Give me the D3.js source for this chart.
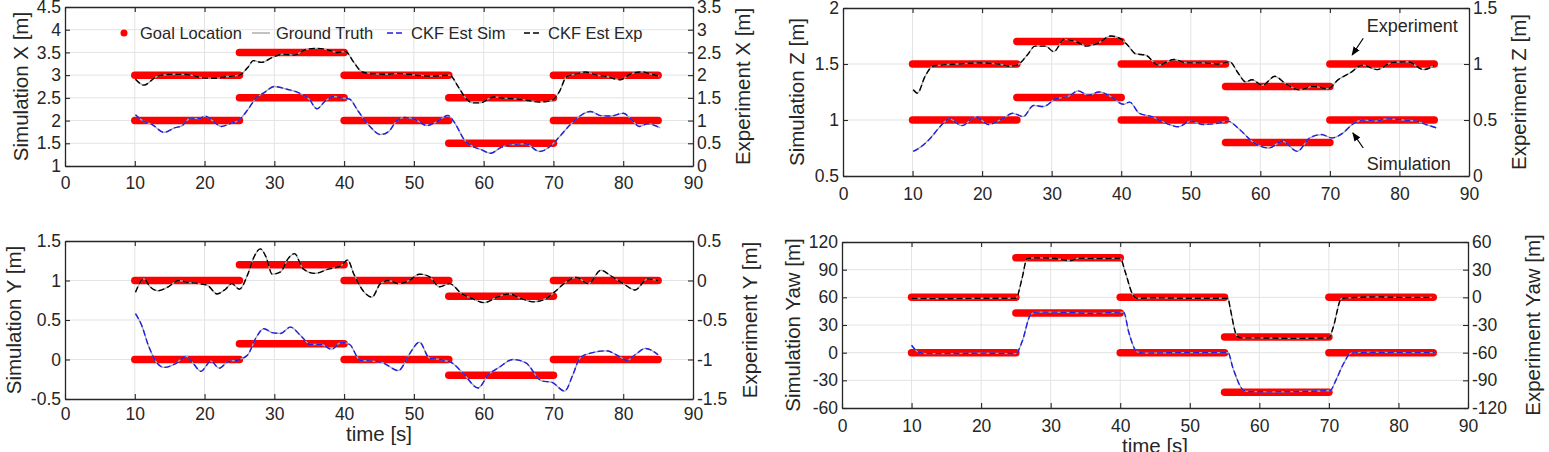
<!DOCTYPE html>
<html>
<head>
<meta charset="utf-8">
<script src="https://cdn.jsdelivr.net/npm/d3@7"></script>
<style>
  body { margin: 0; background: #fff; }
</style>
</head>
<body>
<svg id="chart" width="1549" height="452"></svg>
<script>
const d3 = window.d3

const timeTicks = [0, 10, 20, 30, 40, 50, 60, 70, 80, 90]
const goalTimes = [10, 25, 40, 55, 70, 85]

// set-points per segment (sim on left axis, exp on right axis)
const goalX = [2, 2.5, 2, 1.5, 2]
const goalY = [0, 0.2, 0, -0.2, 0]
const goalZ = [1, 1.2, 1, 0.8, 1]
const goalYaw = [0, 43, 0, -43, 0]

const xSimTicks = [1, 1.5, 2, 2.5, 3, 3.5, 4, 4.5]
const xExpTicks = [0, 0.5, 1, 1.5, 2, 2.5, 3, 3.5]
const ySimTicks = [-0.5, 0, 0.5, 1, 1.5]
const yExpTicks = [-1.5, -1, -0.5, 0, 0.5]
const zSimTicks = [0.5, 1, 1.5, 2]
const zExpTicks = [0, 0.5, 1, 1.5]
const yawSimTicks = [-60, -30, 0, 30, 60, 90, 120]
const yawExpTicks = [-120, -90, -60, -30, 0, 30, 60]

// CKF estimates, [time, value]
const simX = [[10.1, 2.13], [11, 2.01], [12.5, 1.91], [14.2, 1.74], [15.7, 1.84], [16.8, 1.89], [18, 2.06], [19.2, 2.04], [20.1, 2.1], [21.2, 1.99], [22.4, 1.87], [23.6, 1.93], [25, 2.02], [26.2, 2.24], [27.4, 2.5], [28.5, 2.61], [30, 2.75], [31.8, 2.69], [33.5, 2.61], [35, 2.47], [36.1, 2.26], [37.3, 2.43], [38.5, 2.53], [39.6, 2.5], [40.8, 2.47], [42, 2.21], [43.7, 1.87], [45.2, 1.69], [46.4, 1.76], [47.5, 1.99], [48.7, 2.07], [50.2, 2.02], [51.9, 1.89], [53.1, 1.96], [54.9, 2.11], [56, 1.91], [57.2, 1.58], [58.4, 1.43], [59.5, 1.37], [61, 1.28], [62.5, 1.41], [64.2, 1.47], [66, 1.49], [68, 1.32], [69.5, 1.43], [70.9, 1.65], [72.4, 1.91], [73.8, 2.1], [75.3, 2.2], [76.8, 2.11], [78.2, 2.1], [80, 2.16], [81.2, 2.02], [82.3, 1.87], [83.5, 1.93], [85.3, 1.84]]
const expX = [[10.1, 1.91], [11.3, 1.78], [13.3, 1.98], [15.7, 2.02], [18, 2.0], [19.8, 1.94], [21.5, 1.93], [23.3, 1.97], [25, 2.0], [26.2, 2.17], [27, 2.32], [28.2, 2.28], [29.7, 2.39], [31.2, 2.46], [32.9, 2.44], [34.4, 2.56], [35.8, 2.59], [37.6, 2.56], [39, 2.5], [40.2, 2.52], [41.4, 2.28], [42.6, 2.07], [44.3, 2.03], [46.1, 2.02], [47.8, 2.04], [50.2, 2.0], [52.5, 1.98], [55.1, 2.0], [56.3, 1.76], [57.2, 1.54], [58.4, 1.39], [59.5, 1.39], [61.4, 1.52], [63.2, 1.49], [65.2, 1.47], [68, 1.41], [69.5, 1.43], [70.9, 1.65], [71.8, 1.95], [73.6, 2.04], [74.6, 2.07], [76.2, 2.0], [77.6, 1.97], [79.5, 1.9], [81.3, 2.04], [82.8, 2.07], [84, 2.02], [85.2, 1.98]]
const simY = [[10.1, 0.58], [11, 0.43], [11.9, 0.19], [13, -0.02], [14.2, -0.1], [15.7, -0.06], [17.4, 0.04], [18.3, -0.04], [19.5, -0.15], [20.9, -0.02], [22.1, -0.11], [23.3, -0.03], [25, 0.0], [26.2, 0.06], [27.4, 0.28], [28.5, 0.39], [29.7, 0.34], [30.9, 0.33], [32.3, 0.41], [33.8, 0.3], [35.2, 0.19], [36.7, 0.19], [38.2, 0.13], [39.6, 0.22], [40.8, 0.19], [42.3, -0.01], [44, -0.02], [45.5, -0.04], [47.8, -0.14], [49.3, 0.06], [50.8, 0.22], [52.2, 0.02], [53.7, 0.0], [55.4, -0.04], [57.2, -0.19], [59.2, -0.36], [60.7, -0.19], [62.2, -0.1], [64.2, 0.0], [66, -0.04], [68.3, -0.27], [69.8, -0.29], [71.6, -0.4], [72.8, -0.19], [73.8, 0.02], [75.3, 0.08], [77.6, 0.11], [79.4, 0.04], [80.6, -0.01], [81.7, 0.06], [83.2, 0.14], [85, 0.06]]
const expY = [[10.1, -0.15], [11.3, 0.02], [12.2, -0.08], [13.3, -0.13], [14.8, -0.08], [16.3, 0.0], [17.4, -0.02], [19.2, -0.04], [20.4, -0.06], [21.8, -0.17], [23, -0.11], [23.9, -0.04], [25, -0.11], [26.2, 0.08], [27.1, 0.3], [28, 0.4], [28.8, 0.3], [29.7, 0.08], [30.9, 0.11], [32, 0.28], [32.9, 0.34], [34.1, 0.15], [35.8, 0.09], [37.6, 0.14], [39.6, 0.19], [40.5, 0.26], [41.4, 0.08], [42.9, -0.15], [44, -0.21], [45.2, -0.04], [46.4, 0.0], [47.8, -0.04], [49.3, 0.0], [50.8, 0.08], [52.2, 0.05], [53.7, -0.08], [55.1, -0.04], [56.9, -0.17], [58.4, -0.23], [60.1, -0.28], [61.9, -0.21], [63.6, -0.17], [65.4, -0.23], [67.1, -0.27], [68.9, -0.23], [70.1, -0.15], [71.8, -0.02], [73.3, 0.04], [75, -0.04], [76.8, 0.13], [78.2, 0.06], [80, -0.04], [81.7, -0.12], [83.5, 0.02], [85, 0.0]]
const simZ = [[10.1, 0.72], [11.2, 0.76], [12.6, 0.84], [13.8, 0.93], [15.3, 1.01], [17.1, 0.95], [19.1, 1.03], [20.9, 0.96], [22.9, 1.01], [24.4, 1.06], [25.9, 1.03], [27.4, 1.13], [28.8, 1.12], [30.6, 1.19], [32.4, 1.21], [33.8, 1.26], [35.3, 1.22], [36.8, 1.25], [38.5, 1.21], [40.3, 1.14], [41.2, 1.16], [42.6, 1.06], [44.4, 1.03], [46.5, 0.97], [48.2, 0.94], [50, 0.99], [51.8, 0.96], [53.8, 0.97], [55.3, 0.99], [57.1, 0.91], [58.8, 0.81], [61.2, 0.75], [63.2, 0.81], [65.3, 0.72], [67.1, 0.84], [68.8, 0.87], [70.3, 0.84], [71.8, 0.88], [73.2, 0.96], [74.7, 1.0], [76.5, 0.99], [78.2, 1.01], [80.6, 1.0], [82.4, 0.99], [83.8, 0.96], [85.3, 0.93]]
const expZ = [[10.1, 0.77], [10.7, 0.74], [11.8, 0.89], [12.9, 0.98], [14.1, 0.99], [16.5, 1.0], [19.4, 1.01], [22.4, 1.0], [23.8, 0.98], [25, 0.99], [26.5, 1.08], [27.6, 1.16], [29.1, 1.16], [30.3, 1.11], [31.8, 1.22], [33.5, 1.2], [35, 1.16], [36.8, 1.19], [38.5, 1.25], [40, 1.22], [40.9, 1.17], [42.1, 1.09], [43.5, 1.08], [45.3, 0.99], [47.6, 1.04], [49.4, 1.01], [51.8, 1.01], [54.1, 1.0], [55.6, 1.02], [56.8, 0.92], [57.9, 0.84], [58.8, 0.86], [60.3, 0.81], [62.1, 0.89], [63.5, 0.83], [65.6, 0.77], [67.6, 0.8], [69.7, 0.78], [71.2, 0.86], [72.9, 0.92], [74.7, 0.99], [76.8, 0.95], [78.8, 1.01], [81.2, 1.02], [83.5, 0.95], [85, 0.99]]
const simYaw = [[10, 8], [10.9, 1], [12, -1], [15, -1], [20, -0.5], [25, -1], [25.9, 12], [27.1, 41], [27.9, 44], [30, 44], [33, 43.5], [36, 42.5], [40.5, 44], [41.2, 23], [42.4, 1], [43.5, -0.5], [48, 0], [55.5, 0], [56.2, -16.5], [57.6, -40], [58.2, -42], [62, -42.5], [66, -42], [70.2, -41], [71, -30], [72.1, -12], [73.2, -0.5], [76, 0.5], [80, 0], [85.3, 0]]
const expYaw = [[10, -1], [15, -1.5], [20, -1], [25, -1], [25.9, 21], [26.6, 42], [28.2, 43], [30, 42.5], [32.9, 40], [34, 42.5], [37, 42], [40, 42.5], [40.7, 28], [41.8, 3], [42.4, -1], [45, -0.5], [50, -1], [55.5, -1], [55.8, -11.5], [56.8, -42], [57.6, -44], [60, -44], [65, -44.5], [70, -44], [70.6, -33], [71.8, -1.5], [73, -0.5], [77, 0.5], [80, 0], [85, 0]]

const AXIS = '#262626'
const GRID = '#e3e3e3'
const FONT = 'Arial, "Liberation Sans", Helvetica, sans-serif'
const svg = d3.select('#chart')

function Panel (options) {
  this.box = options.box
  this.leftTicks = options.leftTicks
  this.rightTicks = options.rightTicks
  this.pad = options.pad || 11 // gap under the time axis, pixels
  this.x = d3.scaleLinear().domain([0, 90]).range([this.box.left, this.box.right])
  this.yLeft = d3.scaleLinear().domain(d3.extent(this.leftTicks)).range([this.box.bottom, this.box.top])
  this.yRight = d3.scaleLinear().domain(d3.extent(this.rightTicks)).range([this.box.bottom, this.box.top])
  this.g = svg.append('g')
}

Panel.prototype.grid = function () {
  const b = this.box
  const g = this.g.append('g').attr('stroke', GRID).attr('stroke-width', 1)
  g.selectAll('line.v').data(timeTicks.slice(1, -1)).join('line')
    .attr('x1', d => this.x(d)).attr('x2', d => this.x(d))
    .attr('y1', b.top).attr('y2', b.bottom)
  g.selectAll('line.h').data(this.leftTicks.slice(1, -1)).join('line')
    .attr('x1', b.left).attr('x2', b.right)
    .attr('y1', d => this.yLeft(d)).attr('y2', d => this.yLeft(d))
}

Panel.prototype.goals = function (values, scale) {
  const segs = values.map((v, i) => [[goalTimes[i], v], [goalTimes[i + 1], v]])
  const line = d3.line().x(d => this.x(d[0])).y(d => scale(d[1]))
  this.g.append('g').selectAll('path').data(segs).join('path')
    .attr('d', line)
    .attr('fill', 'none').attr('stroke', '#ff0000')
    .attr('stroke-width', 7.5).attr('stroke-linecap', 'round')
}

// ground truth (grey, solid) sits under the dashed estimate
Panel.prototype.track = function (points, scale, color) {
  const line = d3.line().curve(d3.curveMonotoneX).x(d => this.x(d[0])).y(d => scale(d[1]))
  this.g.append('path').datum(points).attr('d', line)
    .attr('fill', 'none').attr('stroke', '#a8a8a8').attr('stroke-width', 1.3)
  this.g.append('path').datum(points).attr('d', line)
    .attr('fill', 'none').attr('stroke', color).attr('stroke-width', 1.4)
    .attr('stroke-dasharray', '6,3')
}

Panel.prototype.axes = function () {
  const b = this.box
  const fmt = d => String(d)
  const style = sel => {
    sel.attr('font-family', FONT).attr('font-size', 17.5)
    sel.select('.domain').attr('stroke', AXIS).attr('stroke-width', 1.3)
    sel.selectAll('.tick line').attr('stroke', AXIS).attr('stroke-width', 1.1)
    sel.selectAll('.tick text').attr('fill', AXIS)
  }
  this.g.append('g').attr('transform', `translate(0,${b.bottom})`)
    .call(d3.axisBottom(this.x).tickValues(timeTicks).tickFormat(fmt).tickSize(-5).tickSizeOuter(0).tickPadding(this.pad))
    .call(style)
  this.g.append('g').attr('transform', `translate(0,${b.top})`)
    .call(d3.axisTop(this.x).tickValues(timeTicks).tickFormat('').tickSize(-5).tickSizeOuter(0))
    .call(style)
  this.g.append('g').attr('transform', `translate(${b.left},0)`)
    .call(d3.axisLeft(this.yLeft).tickValues(this.leftTicks).tickFormat(fmt).tickSize(-5).tickSizeOuter(0).tickPadding(4))
    .call(style)
  this.g.append('g').attr('transform', `translate(${b.right},0)`)
    .call(d3.axisRight(this.yRight).tickValues(this.rightTicks).tickFormat(fmt).tickSize(-5).tickSizeOuter(0).tickPadding(4))
    .call(style)
}

Panel.prototype.labels = function (options) {
  const cy = (this.box.top + this.box.bottom) / 2
  const put = (text, x) => this.g.append('text')
    .attr('transform', `translate(${x},${cy}) rotate(-90)`)
    .attr('text-anchor', 'middle').attr('dominant-baseline', 'central')
    .attr('font-family', FONT).attr('font-size', 20.5).attr('fill', AXIS)
    .text(text)
  put(options.left, options.leftX)
  put(options.right, options.rightX)
  if (options.timeY) {
    this.g.append('text')
      .attr('x', (this.box.left + this.box.right) / 2).attr('y', options.timeY)
      .attr('text-anchor', 'middle')
      .attr('font-family', FONT).attr('font-size', 20.5).attr('fill', AXIS)
      .text('time [s]')
  }
}

Panel.prototype.draw = function (options) {
  this.grid()
  this.goals(options.goals, this.yLeft)
  this.goals(options.goals, this.yRight)
  this.track(options.sim, this.yLeft, '#1f1fe6')
  this.track(options.exp, this.yRight, '#000000')
  this.axes()
  this.labels(options)
}

const panelX = new Panel({box: {left: 65, right: 693, top: 7, bottom: 166}, leftTicks: xSimTicks, rightTicks: xExpTicks, pad: 11})
panelX.draw({goals: goalX, sim: simX, exp: expX, left: 'Simulation X [m]', leftX: 20, right: 'Experiment X [m]', rightX: 742})

const panelY = new Panel({box: {left: 65, right: 693, top: 241, bottom: 399}, leftTicks: ySimTicks, rightTicks: yExpTicks, pad: 9})
panelY.draw({goals: goalY, sim: simY, exp: expY, left: 'Simulation Y [m]', leftX: 13, right: 'Experiment Y [m]', rightX: 749, timeY: 441})

const panelZ = new Panel({box: {left: 843, right: 1469, top: 8, bottom: 176}, leftTicks: zSimTicks, rightTicks: zExpTicks, pad: 12})
panelZ.draw({goals: goalZ, sim: simZ, exp: expZ, left: 'Simulation Z [m]', leftX: 796, right: 'Experiment Z [m]', rightX: 1518})

const panelYaw = new Panel({box: {left: 842, right: 1468, top: 242, bottom: 408}, leftTicks: yawSimTicks, rightTicks: yawExpTicks, pad: 12})
panelYaw.draw({goals: goalYaw, sim: simYaw, exp: expYaw, left: 'Simulation Yaw [m]', leftX: 792, right: 'Experiment Yaw [m]', rightX: 1532, timeY: 453})

// legend, top of the X panel, no frame
const legend = panelX.g.append('g').attr('font-family', FONT).attr('font-size', 16.5).attr('fill', AXIS)
const legendItems = [
  {label: 'Goal Location', kind: 'dot', x: 124},
  {label: 'Ground Truth', kind: 'line', color: '#a8a8a8', dash: null, x: 252},
  {label: 'CKF Est Sim', kind: 'line', color: '#1f1fe6', dash: '6,3', x: 387},
  {label: 'CKF Est Exp', kind: 'line', color: '#000000', dash: '6,3', x: 524}
]
const ly = 33
legendItems.forEach(item => {
  if (item.kind === 'dot') {
    legend.append('circle').attr('cx', item.x).attr('cy', ly).attr('r', 3.5).attr('fill', '#ff0000')
    legend.append('text').attr('x', item.x + 16).attr('y', ly + 6).text(item.label)
  } else {
    legend.append('line').attr('x1', item.x).attr('x2', item.x + 18).attr('y1', ly).attr('y2', ly)
      .attr('stroke', item.color).attr('stroke-width', 1.4).attr('stroke-dasharray', item.dash)
    legend.append('text').attr('x', item.x + 24).attr('y', ly + 6).text(item.label)
  }
})

// arrow annotations on the Z panel, [time, left-axis value]
const notes = [
  {text: 'Experiment', at: [75.3, 1.79], tail: [74.8, 1.73], tip: [73.2, 1.58]},
  {text: 'Simulation', at: [75.3, 0.55], tail: [74.8, 0.75], tip: [73.3, 0.885]}
]
svg.append('defs').append('marker')
  .attr('id', 'head').attr('viewBox', '0 0 10 10').attr('refX', 9).attr('refY', 5)
  .attr('markerWidth', 9).attr('markerHeight', 9).attr('markerUnits', 'userSpaceOnUse')
  .attr('orient', 'auto')
  .append('path').attr('d', 'M0,1 L10,5 L0,9 z').attr('fill', '#000')
notes.forEach(n => {
  panelZ.g.append('line')
    .attr('x1', panelZ.x(n.tail[0])).attr('y1', panelZ.yLeft(n.tail[1]))
    .attr('x2', panelZ.x(n.tip[0])).attr('y2', panelZ.yLeft(n.tip[1]))
    .attr('stroke', '#000').attr('stroke-width', 1.2).attr('marker-end', 'url(#head)')
  panelZ.g.append('text')
    .attr('x', panelZ.x(n.at[0])).attr('y', panelZ.yLeft(n.at[1]))
    .attr('font-family', FONT).attr('font-size', 18).attr('fill', AXIS)
    .text(n.text)
})
</script>
</body>
</html>
